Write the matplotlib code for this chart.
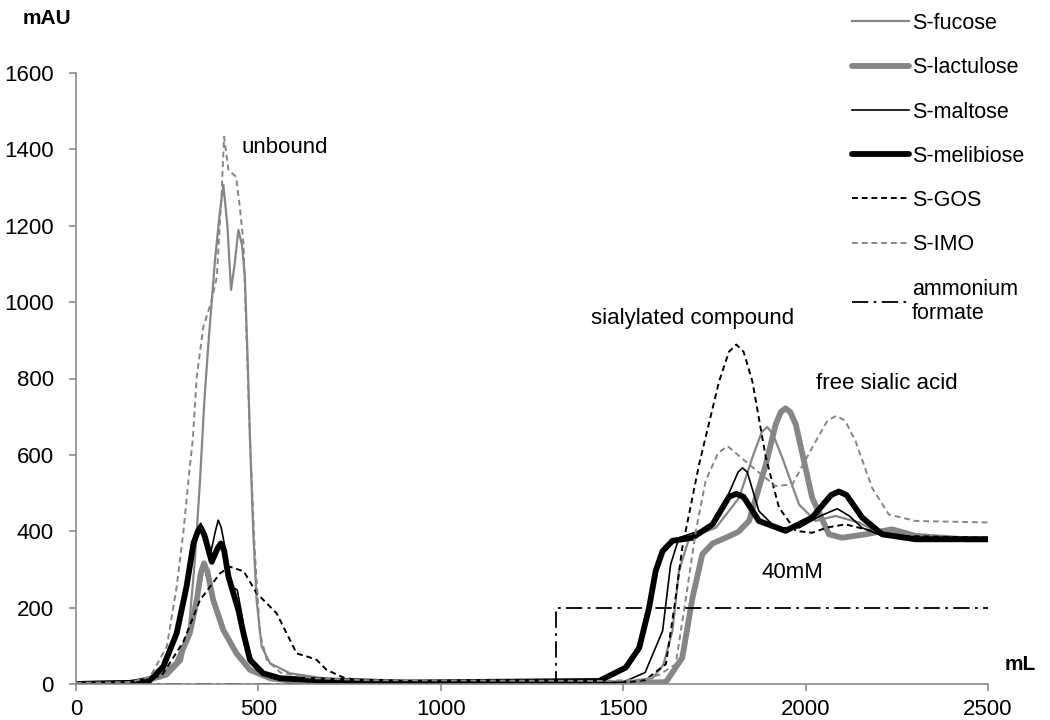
import matplotlib
matplotlib.use('Agg')
import matplotlib.pyplot as plt

plt.rcParams['font.family'] = ['Liberation Sans', 'DejaVu Sans']

# values (mL, mAU)
fucose_x = [0, 150, 200, 250, 290, 310, 326, 340, 352, 363, 381, 395, 404, 415, 425, 435, 445,
            455, 463, 472, 477, 486, 495, 509, 532, 587, 700, 1000, 1500, 1580, 1610, 1635, 1653,
            1681, 1754, 1818, 1854, 1880, 1895, 1910, 1936, 1982, 2027, 2082, 2146, 2191, 2300, 2500]
fucose_y = [0, 3, 8, 20, 60, 150, 325, 534, 744, 892, 1110, 1241, 1307, 1200, 1032, 1100, 1189,
            1150, 1066, 805, 639, 395, 220, 98, 54, 28, 12, 5, 5, 15, 50, 139, 296,
            383, 409, 488, 593, 660, 673, 655, 593, 470, 427, 440, 423, 401, 386, 382]

lactulose_x = [0, 150, 230, 276, 312, 331, 342, 351, 360, 376, 404, 440, 477, 532, 600, 800, 1500,
               1617, 1662, 1690, 1717, 1745, 1781, 1815, 1845, 1891, 1918, 1932, 1945, 1958, 1973,
               2018, 2064, 2100, 2164, 2237, 2301, 2438, 2500]
lactulose_y = [0, 3, 19, 54, 133, 220, 290, 316, 295, 220, 141, 80, 37, 15, 7, 3, 2,
               5, 69, 226, 340, 368, 383, 398, 427, 575, 680, 712, 722, 712, 680,
               488, 392, 383, 392, 405, 388, 379, 379]

maltose_x = [0, 150, 203, 239, 276, 303, 322, 334, 342, 350, 367, 382, 390, 398, 408, 427, 442,
             454, 468, 495, 540, 600, 800, 1400, 1500, 1560, 1608, 1630, 1653, 1735, 1790, 1815,
             1827, 1840, 1872, 1918, 1982, 2040, 2087, 2120, 2155, 2210, 2300, 2500]
maltose_y = [0, 3, 10, 45, 133, 255, 368, 410, 421, 400, 333, 400, 429, 410, 360, 255, 246,
             185, 98, 37, 15, 8, 3, 2, 5, 30, 139, 313, 383, 409, 500, 555,
             566, 555, 453, 409, 409, 440, 459, 440, 409, 388, 381, 380]

melibiose_x = [0, 150, 203, 239, 276, 303, 322, 334, 342, 352, 372, 388, 397, 406, 418, 445, 459,
               477, 513, 560, 660, 900, 1434, 1507, 1544, 1571, 1589, 1608, 1635, 1690, 1745, 1790,
               1810, 1830, 1872, 1945, 2018, 2070, 2091, 2112, 2155, 2210, 2301, 2500]
melibiose_y = [0, 3, 10, 45, 133, 255, 368, 400, 410, 390, 320, 355, 368, 350, 281, 194, 133,
               63, 28, 15, 10, 4, 8, 43, 95, 200, 296, 348, 375, 383, 418, 490,
               498, 490, 427, 401, 436, 495, 504, 495, 436, 392, 379, 379]

gos_x = [0, 150, 235, 294, 340, 395, 422, 460, 495, 550, 605, 640, 660, 687, 733, 778, 850, 1000,
         1500, 1560, 1617, 1640, 1662, 1708, 1763, 1790, 1810, 1830, 1854, 1891, 1927, 1973,
         2018, 2060, 2109, 2182, 2250, 2500]
gos_y = [0, 2, 22, 110, 220, 290, 307, 295, 238, 185, 80, 70, 63, 37, 17, 9, 5, 3,
         3, 10, 52, 200, 357, 575, 793, 870, 889, 870, 793, 593, 462, 401,
         396, 410, 418, 401, 388, 383]

imo_x = [0, 150, 203, 249, 276, 294, 312, 320, 331, 349, 372, 386, 399, 406, 418, 439, 450, 459,
         468, 477, 490, 504, 523, 560, 650, 800, 1450, 1560, 1600, 1644, 1672, 1699, 1726, 1760,
         1786, 1845, 1918, 1964, 2018, 2060, 2084, 2108, 2137, 2182, 2228, 2301, 2500]
imo_y = [3, 5, 19, 98, 255, 395, 569, 639, 805, 935, 1005, 1066, 1285, 1433, 1346, 1328, 1241, 1154,
         892, 639, 350, 133, 63, 30, 15, 10, 8, 12, 25, 52, 226, 400, 532, 605,
         623, 575, 518, 523, 619, 690, 702, 690, 636, 514, 444, 427, 423]

formate_x = [0, 1315, 1315, 2500]
formate_y = [0, 0, 200, 200]

gray = '#868686'
fs = 16

fig = plt.figure(figsize=(10.5, 7.2), dpi=100)
ax = fig.add_axes([76 / 1050, 1 - 684 / 720, 912 / 1050, 611 / 720])

ax.plot(fucose_x, fucose_y, color=gray, lw=1.6, label='S-fucose')
ax.plot(lactulose_x, lactulose_y, color=gray, lw=4.2, label='S-lactulose', solid_capstyle='round')
ax.plot(maltose_x, maltose_y, color='black', lw=1.2, label='S-maltose')
ax.plot(melibiose_x, melibiose_y, color='black', lw=4.2, label='S-melibiose', solid_capstyle='round')
ax.plot(gos_x, gos_y, color='black', lw=1.4, ls=(0, (3, 2)), label='S-GOS')
ax.plot(imo_x, imo_y, color=gray, lw=1.4, ls=(0, (3, 2)), label='S-IMO')
ax.plot(formate_x, formate_y, color='black', lw=1.3, ls=(0, (9, 3, 1.5, 3)),
        label='ammonium\nformate')

ax.set_xlim(0, 2500)
ax.set_ylim(0, 1600)
ax.set_xticks(range(0, 2501, 500))
ax.set_yticks(range(0, 1601, 200))
for s in ['top', 'right']:
    ax.spines[s].set_visible(False)
for s in ['left', 'bottom']:
    ax.spines[s].set_color('#8c8c8c')
    ax.spines[s].set_linewidth(1.2)
ax.tick_params(colors='#8c8c8c', labelcolor='black', labelsize=fs, length=5, width=1.2)
ax.tick_params(axis='y', pad=11)
ax.tick_params(axis='x', pad=6)

fig.text(47 / 1050, 1 - 19 / 720, 'mAU', fontsize=fs - 1, fontweight='bold', ha='center', va='center')
fig.text(1020 / 1050, 1 - 665 / 720, 'mL', fontsize=fs - 1, fontweight='bold', ha='center', va='center')

ax.text(455, 1406, 'unbound', fontsize=fs, ha='left', va='center')
ax.text(1689, 958, 'sialylated compound', fontsize=fs, ha='center', va='center')
ax.text(2223, 788, 'free sialic acid', fontsize=fs, ha='center', va='center')
ax.text(1963, 291, '40mM', fontsize=fs, ha='center', va='center')

fig.legend(loc='upper left', bbox_to_anchor=(852 / 1050, 1 - 13 / 720), frameon=False,
           fontsize=fs - 0.5, handlelength=2.65, handletextpad=0.12, labelspacing=1.08,
           borderaxespad=0, borderpad=0)

fig.savefig('out.png', dpi=100)
